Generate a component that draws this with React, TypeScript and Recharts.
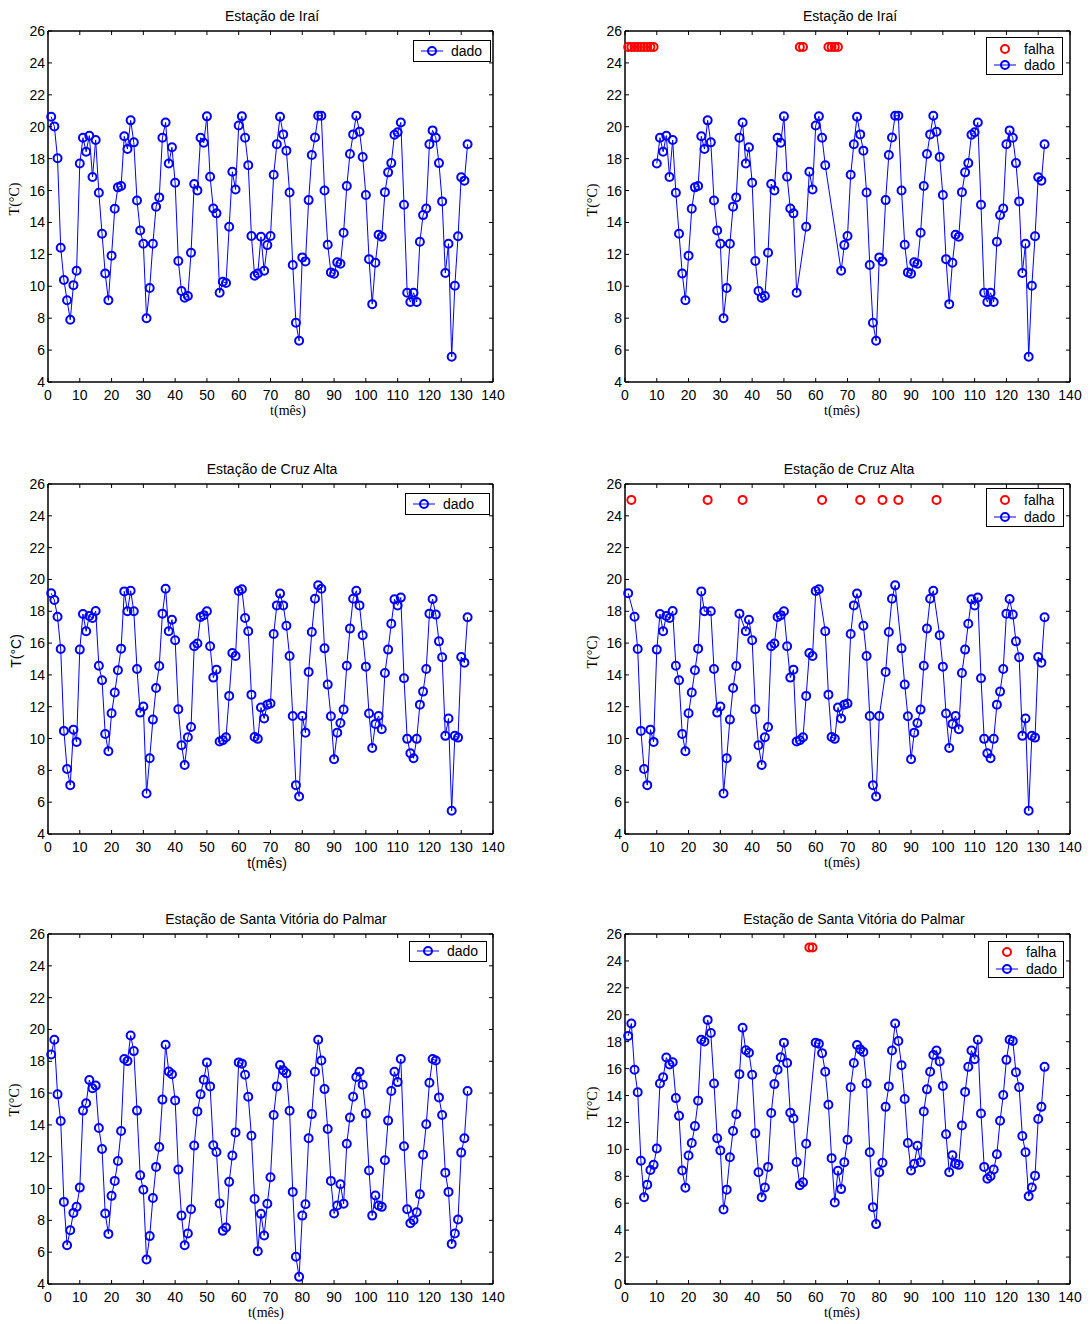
import React from "react";
import { LineChart, Line, XAxis, YAxis } from "recharts";

// months 1..132 of the series
const months = Array.from({ length: 132 }, (_, i) => i + 1);

const iraiTemp = [
  20.63, 20.02, 18.02, 12.42, 10.39, 9.12, 7.9, 10.07, 10.97, 17.7,
  19.31, 18.43, 19.44, 16.85, 19.17, 15.86, 13.29, 10.8, 9.12, 11.92,
  14.86, 16.2, 16.28, 19.4, 18.6, 20.4, 19.02, 15.38, 13.5, 12.67,
  8.0, 9.89, 12.67, 14.99, 15.57, 19.31, 20.27, 17.7, 18.71, 16.49,
  11.58, 9.7, 9.28, 9.39, 12.1, 16.41, 16.01, 19.31, 19.0, 20.65,
  16.87, 14.88, 14.57, 9.59, 10.28, 10.2, 13.73, 17.18, 16.07, 20.08,
  20.65, 19.31, 17.58, 13.15, 10.66, 10.8, 13.1, 10.97, 12.58, 13.15,
  16.99, 18.9, 20.63, 19.52, 18.5, 15.88, 11.33, 7.71, 6.58, 11.81,
  11.56, 15.4, 18.23, 19.33, 20.69, 20.69, 16.0, 12.6, 10.87, 10.79,
  11.5, 11.41, 13.36, 16.28, 18.29, 19.52, 20.69, 19.69, 18.1, 15.72,
  11.7, 8.88, 11.47, 13.23, 13.1, 15.9, 17.14, 17.72, 19.5, 19.65,
  20.27, 15.11, 9.59, 9.01, 9.59, 9.01, 12.79, 14.46, 14.88, 18.9,
  19.77, 19.31, 17.72, 15.32, 10.83, 12.67, 5.58, 10.03, 13.13, 16.83,
  16.62, 18.9,
];

const cruzAltaTemp = [
  19.13, 18.71, 17.66, 15.63, 10.48, 8.09, 7.07, 10.56, 9.79, 15.59,
  17.83, 16.74, 17.7, 17.58, 18.02, 14.58, 13.66, 10.29, 9.2, 11.59,
  12.89, 14.29, 15.65, 19.25, 18.0, 19.29, 18.0, 14.37, 11.63, 12.01,
  6.55, 8.76, 11.19, 13.18, 14.56, 17.85, 19.42, 16.74, 17.47, 16.18,
  11.84, 9.58, 8.34, 10.08, 10.73, 15.8, 15.97, 17.64, 17.75, 18.0,
  15.8, 13.83, 14.33, 9.81, 9.89, 10.08, 12.68, 15.38, 15.19, 19.27,
  19.38, 17.58, 16.74, 12.76, 10.1, 9.98, 11.95, 11.26, 12.13, 12.2,
  16.57, 18.37, 19.11, 18.37, 17.09, 15.19, 11.42, 7.07, 6.36, 11.42,
  10.37, 14.19, 16.7, 18.79, 19.63, 19.42, 15.67, 13.39, 11.4, 8.7,
  10.37, 10.98, 11.82, 14.58, 16.91, 18.79, 19.29, 18.37, 16.49, 14.52,
  11.57, 9.41, 10.92, 11.42, 10.58, 14.12, 15.59, 17.22, 18.75, 18.37,
  18.86, 13.79, 9.98, 9.08, 8.76, 9.98, 12.13, 12.95, 14.37, 17.85,
  18.77, 17.79, 16.11, 15.11, 10.17, 11.26, 5.46, 10.17, 10.06, 15.13,
  14.77, 17.62,
];

const santaVitoriaTemp = [
  18.43, 19.35, 15.92, 14.25, 9.16, 6.44, 7.38, 8.47, 8.85, 10.06,
  14.9, 15.36, 16.82, 16.3, 16.47, 13.81, 12.49, 8.43, 7.15, 9.54,
  10.48, 11.73, 13.62, 18.14, 18.01, 19.62, 18.64, 14.9, 10.83, 9.92,
  5.54, 7.01, 9.41, 11.36, 12.61, 15.59, 19.04, 17.36, 17.18, 15.54,
  11.19, 8.3, 6.44, 7.17, 8.7, 12.7, 14.85, 15.92, 16.84, 17.93,
  16.42, 12.72, 12.3, 9.06, 7.34, 7.55, 10.42, 12.07, 13.53, 17.93,
  17.85, 17.15, 15.77, 13.32, 9.35, 6.06, 8.41, 7.05, 9.04, 10.71,
  14.62, 16.42, 17.76, 17.43, 17.24, 14.89, 9.79, 5.71, 4.45, 8.3,
  9.01, 13.16, 14.68, 17.34, 19.35, 18.05, 16.25, 13.74, 10.48, 8.43,
  8.93, 10.27, 9.04, 12.82, 14.46, 15.77, 17.01, 17.34, 16.53, 14.71,
  11.13, 8.3, 9.56, 8.93, 8.85, 11.78, 14.27, 16.13, 17.34, 16.69,
  18.14, 12.66, 8.7, 7.82, 8.01, 8.51, 9.64, 12.13, 14.04, 16.65,
  18.14, 18.05, 15.73, 14.62, 11.0, 9.79, 6.52, 7.17, 8.05, 12.26,
  13.16, 16.13,
];

// months with missing data ("falha")
const iraiFalhas = [1, 2, 3, 4, 5, 6, 7, 8, 9, 55, 56, 64, 65, 66, 67];
const cruzAltaFalhas = [2, 26, 37, 62, 74, 81, 86, 98];
const santaVitoriaFalhas = [58, 59];
const FALHA_LEVEL = 25;

const xTicks = [0, 10, 20, 30, 40, 50, 60, 70, 80, 90, 100, 110, 120, 130, 140];
const yTicksFrom4 = [4, 6, 8, 10, 12, 14, 16, 18, 20, 22, 24, 26];
const yTicksFrom0 = [0, 2, 4, 6, 8, 10, 12, 14, 16, 18, 20, 22, 24, 26];

const SANS = "'Liberation Sans', Arial, Helvetica, sans-serif";
const SERIF = "'Liberation Serif', 'Times New Roman', serif";
const BLUE = "#0000ff";
const RED = "#ff0000";
const TICK = 4;
const PLOT_W = 445;
// axis bands (must be > 0 or recharts skips the axis) + outer margins
const LEFT_W = 40;
const RIGHT_W = 4;
const TOP_H = 4;
const BOTTOM_H = 28;
const M = { top: 8, right: 12, bottom: 4, left: 6 };
const OFF_LEFT = M.left + LEFT_W;
const OFF_TOP = M.top + TOP_H;

function BottomTick({ x, y, payload }: any) {
  return (
    <g>
      <line x1={x} y1={y} x2={x} y2={y - TICK} stroke="#000" />
      <text x={x} y={y + 18} textAnchor="middle" fontSize={14} fontFamily={SANS} fill="#000">
        {payload.value}
      </text>
    </g>
  );
}

function LeftTick({ x, y, payload }: any) {
  return (
    <g>
      <line x1={x} y1={y} x2={x + TICK} y2={y} stroke="#000" />
      <text x={x - 3} y={y + 5} textAnchor="end" fontSize={14} fontFamily={SANS} fill="#000">
        {payload.value}
      </text>
    </g>
  );
}

function TopTick({ x, y }: any) {
  return <line x1={x} y1={y} x2={x} y2={y + TICK} stroke="#000" />;
}

function RightTick({ x, y }: any) {
  return <line x1={x} y1={y} x2={x - TICK} y2={y} stroke="#000" />;
}

interface LegendBox {
  left: number;
  top: number;
  width: number;
  height: number;
  rows: number[]; // row centre offsets from box top
}

interface PanelSpec {
  title: string;
  values: number[];
  falhas?: number[];
  yDomain: [number, number];
  yTicks: number[];
  plotLeft: number;
  plotTop: number;
  plotH: number;
  titleX: number;
  xLabelX: number;
  yLabelX: number;
  yLabelY: number;
  labelFont: string;
  legend: LegendBox;
}

const panels: PanelSpec[] = [
  {
    title: "Estação de Iraí", values: iraiTemp, yDomain: [4, 26], yTicks: yTicksFrom4,
    plotLeft: 48, plotTop: 31, plotH: 351, titleX: 272, xLabelX: 288, yLabelX: 15, yLabelY: 199,
    labelFont: SERIF, legend: { left: 413, top: 40, width: 78, height: 22, rows: [11] },
  },
  {
    title: "Estação de Iraí", values: iraiTemp, falhas: iraiFalhas, yDomain: [4, 26], yTicks: yTicksFrom4,
    plotLeft: 625, plotTop: 31, plotH: 351, titleX: 850, xLabelX: 842, yLabelX: 593, yLabelY: 200,
    labelFont: SERIF, legend: { left: 986, top: 37, width: 77, height: 38, rows: [12, 28] },
  },
  {
    title: "Estação de Cruz Alta", values: cruzAltaTemp, yDomain: [4, 26], yTicks: yTicksFrom4,
    plotLeft: 48, plotTop: 484, plotH: 350, titleX: 272, xLabelX: 267, yLabelX: 16, yLabelY: 651,
    labelFont: SANS, legend: { left: 405, top: 493, width: 85, height: 22, rows: [11] },
  },
  {
    title: "Estação de Cruz Alta", values: cruzAltaTemp, falhas: cruzAltaFalhas, yDomain: [4, 26], yTicks: yTicksFrom4,
    plotLeft: 625, plotTop: 484, plotH: 350, titleX: 849, xLabelX: 842, yLabelX: 593, yLabelY: 652,
    labelFont: SERIF, legend: { left: 986, top: 488, width: 78, height: 39, rows: [12, 29] },
  },
  {
    title: "Estação de Santa Vitória do Palmar", values: santaVitoriaTemp, yDomain: [4, 26], yTicks: yTicksFrom4,
    plotLeft: 48, plotTop: 934, plotH: 350, titleX: 276, xLabelX: 266, yLabelX: 15, yLabelY: 1100,
    labelFont: SERIF, legend: { left: 409, top: 941, width: 78, height: 21, rows: [10.5] },
  },
  {
    title: "Estação de Santa Vitória do Palmar", values: santaVitoriaTemp, falhas: santaVitoriaFalhas, yDomain: [0, 26], yTicks: yTicksFrom0,
    plotLeft: 625, plotTop: 934, plotH: 350, titleX: 854, xLabelX: 842, yLabelX: 593, yLabelY: 1103,
    labelFont: SERIF, legend: { left: 988, top: 941, width: 76, height: 37, rows: [11, 28] },
  },
];

function Legend({ box, withFalha }: { box: LegendBox; withFalha: boolean }) {
  const entries = withFalha ? ["falha", "dado"] : ["dado"];
  return (
    <div
      style={{
        position: "absolute", left: box.left, top: box.top, width: box.width, height: box.height,
        border: "1.5px solid #000", boxSizing: "border-box", background: "#fff",
      }}
    >
      {entries.map((name, i) => {
        const cy = box.rows[i] - 1.5;
        const color = name === "falha" ? RED : BLUE;
        return (
          <React.Fragment key={name}>
            <svg width={24} height={12} style={{ position: "absolute", left: 6, top: cy - 6 }}>
              {name === "dado" && <line x1={1} y1={6} x2={23} y2={6} stroke={color} strokeWidth={1} />}
              <circle cx={12} cy={6} r={4} fill="none" stroke={color} strokeWidth={2} />
            </svg>
            <div
              style={{
                position: "absolute", left: 37, top: cy - 8, lineHeight: "16px",
                fontFamily: SANS, fontSize: 14, color: "#000",
              }}
            >
              {name}
            </div>
          </React.Fragment>
        );
      })}
    </div>
  );
}

function Panel({ spec }: { spec: PanelSpec }) {
  const falhas = spec.falhas || [];
  const rows = months.map((t, i) => {
    const gap = falhas.includes(t);
    return { t, dado: gap ? null : spec.values[i], falha: gap ? FALHA_LEVEL : null };
  });
  const plotBottom = spec.plotTop + spec.plotH;
  const axisLine = { stroke: "#000", strokeWidth: 1.5 };

  return (
    <>
      <div
        style={{
          position: "absolute", left: spec.titleX - 200, width: 400, top: spec.plotTop - 23,
          textAlign: "center", lineHeight: "16px", fontFamily: SANS, fontSize: 14, color: "#000",
        }}
      >
        {spec.title}
      </div>
      <div style={{ position: "absolute", left: spec.plotLeft - OFF_LEFT, top: spec.plotTop - OFF_TOP }}>
        <LineChart
          width={OFF_LEFT + PLOT_W + RIGHT_W + M.right}
          height={OFF_TOP + spec.plotH + BOTTOM_H + M.bottom}
          data={rows}
          margin={M}
        >
          <XAxis
            dataKey="t" type="number" domain={[0, 140]} ticks={xTicks} interval={0}
            height={BOTTOM_H} tickSize={0} tickMargin={0} tickLine={false}
            axisLine={axisLine} tick={(p: any) => <BottomTick {...p} />}
          />
          <XAxis
            xAxisId="top" orientation="top" dataKey="t" type="number" domain={[0, 140]} ticks={xTicks} interval={0}
            height={TOP_H} tickSize={0} tickMargin={0} tickLine={false}
            axisLine={axisLine} tick={(p: any) => <TopTick {...p} />}
          />
          <YAxis
            type="number" domain={spec.yDomain} ticks={spec.yTicks} interval={0}
            width={LEFT_W} tickSize={0} tickMargin={0} tickLine={false}
            axisLine={axisLine} tick={(p: any) => <LeftTick {...p} />}
          />
          <YAxis
            yAxisId="right" orientation="right" type="number" domain={spec.yDomain} ticks={spec.yTicks} interval={0}
            width={RIGHT_W} tickSize={0} tickMargin={0} tickLine={false} allowDataOverflow
            axisLine={axisLine} tick={(p: any) => <RightTick {...p} />}
          />
          {falhas.length > 0 && (
            <Line
              dataKey="falha" stroke="none" isAnimationActive={false}
              dot={{ r: 4, stroke: RED, strokeWidth: 2, fill: "none" }} activeDot={false}
            />
          )}
          <Line
            dataKey="dado" stroke={BLUE} strokeWidth={1} connectNulls isAnimationActive={false}
            dot={{ r: 4, stroke: BLUE, strokeWidth: 2, fill: "none" }} activeDot={false}
          />
        </LineChart>
      </div>
      <div
        style={{
          position: "absolute", left: spec.xLabelX - 60, width: 120, top: plotBottom + 21,
          textAlign: "center", lineHeight: "16px", fontFamily: spec.labelFont, fontSize: 14, color: "#000",
        }}
      >
        t(mês)
      </div>
      <div
        style={{
          position: "absolute", left: spec.yLabelX - 50, width: 100, top: spec.yLabelY - 8,
          textAlign: "center", lineHeight: "16px", fontFamily: spec.labelFont, fontSize: 14, color: "#000",
          transform: "rotate(-90deg)",
        }}
      >
        T(°C)
      </div>
      <Legend box={spec.legend} withFalha={falhas.length > 0} />
    </>
  );
}

export default function App() {
  return (
    <div style={{ position: "absolute", left: 0, top: 0, width: 1090, height: 1324, background: "#fff" }}>
      {panels.map((p, i) => (
        <Panel key={i} spec={p} />
      ))}
    </div>
  );
}
